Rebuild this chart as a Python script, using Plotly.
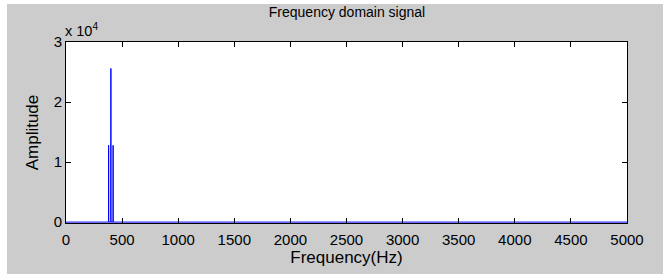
import plotly.graph_objects as go

# Spectrum data (Hz, amplitude)
freq = [0, 379, 380, 381, 399, 400, 401, 419, 420, 421, 5000]
amplitude = [0, 0, 12800, 0, 0, 25600, 0, 0, 12800, 0, 0]

x_ticks = [0, 500, 1000, 1500, 2000, 2500, 3000, 3500, 4000, 4500, 5000]
y_ticks = [0, 10000, 20000, 30000]
y_tick_labels = ["0", "1", "2", "3"]

W, H = 663, 274
L, R, T, B = 66, 36, 42, 51
pw, ph = W - L - R, H - T - B

def px(xp):
    return (xp - L) / pw

def py(yp):
    return (H - B - yp) / ph

FONT = "Arial, Liberation Sans, sans-serif"

fig = go.Figure()
fig.add_trace(go.Scatter(x=freq, y=amplitude, mode="lines",
                         line=dict(color="#0000ff", width=1), showlegend=False))

fig.update_layout(
    width=W, height=H,
    margin=dict(l=L, r=R, t=T, b=B),
    paper_bgcolor="#cccccc",
    plot_bgcolor="#ffffff",
    font=dict(family=FONT, color="#000000"),
    title=dict(text="Frequency domain signal", x=px(347), xref="paper", xanchor="center",
               y=1 - 12 / H, yanchor="middle", font=dict(size=14)),
    xaxis=dict(range=[0, 5000], tickvals=x_ticks, ticktext=[str(v) for v in x_ticks],
               ticks="inside", ticklen=5, tickcolor="#000000", showline=True,
               linecolor="#000000", linewidth=1, mirror="ticks", showgrid=False,
               zeroline=False, tickfont=dict(size=15), ticklabelstandoff=3,
               title=dict(text="Frequency(Hz)", font=dict(size=17), standoff=1)),
    yaxis=dict(range=[-150, 30000], tickvals=y_ticks, ticktext=y_tick_labels,
               ticks="inside", ticklen=5, tickcolor="#000000", showline=True,
               linecolor="#000000", linewidth=1, mirror="ticks", showgrid=False,
               zeroline=False, tickfont=dict(size=15),
               title=dict(text="Amplitude", font=dict(size=17), standoff=10)),
    shapes=[
        dict(type="rect", xref="paper", yref="paper", x0=px(0), x1=px(7), y0=py(H), y1=py(0),
             fillcolor="#ffffff", line=dict(width=0), layer="below"),
        dict(type="rect", xref="paper", yref="paper", x0=px(0), x1=px(W), y0=py(4), y1=py(0),
             fillcolor="#ffffff", line=dict(width=0), layer="below"),
    ],
    annotations=[
        dict(text="x 10<sup>4</sup>", xref="paper", yref="paper", x=px(63), y=py(30),
             xanchor="left", yanchor="middle", showarrow=False, font=dict(size=14.5)),
    ],
)

fig.write_html("out.html", config={"displayModeBar": False},
               post_script="document.body.style.margin='0';")
